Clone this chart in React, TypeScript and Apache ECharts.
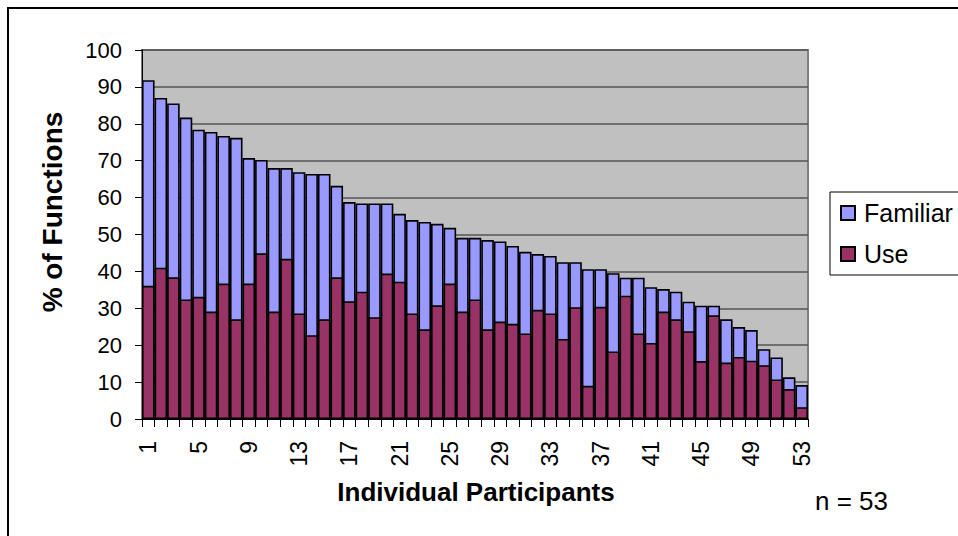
import React, { useEffect, useRef } from "react";
import * as echarts from "echarts";

const participants = [
  "1", "2", "3", "4", "5", "6", "7", "8", "9", "10",
  "11", "12", "13", "14", "15", "16", "17", "18", "19", "20",
  "21", "22", "23", "24", "25", "26", "27", "28", "29", "30",
  "31", "32", "33", "34", "35", "36", "37", "38", "39", "40",
  "41", "42", "43", "44", "45", "46", "47", "48", "49", "50",
  "51", "52", "53",
];

const familiar = [
  91.8, 87.0, 85.5, 81.7, 78.4, 77.8, 76.7, 76.2, 70.7, 70.2,
  68.0, 68.0, 66.9, 66.4, 66.4, 63.2, 58.8, 58.4, 58.4, 58.4,
  55.6, 53.9, 53.4, 52.9, 51.8, 49.1, 49.1, 48.5, 48.1, 46.9,
  45.3, 44.7, 44.2, 42.5, 42.5, 40.6, 40.6, 39.5, 38.3, 38.3,
  35.7, 35.2, 34.5, 31.8, 30.7, 30.7, 27.0, 24.9, 24.1, 18.9,
  16.7, 11.3, 9.2,
];

const use = [
  36.1, 41.0, 38.4, 32.4, 33.1, 29.1, 36.7, 27.0, 36.7, 44.9,
  29.1, 43.4, 28.6, 22.7, 27.0, 38.4, 31.9, 34.5, 27.6, 39.4,
  37.2, 28.6, 24.3, 30.8, 36.7, 29.1, 32.4, 24.3, 26.4, 25.8,
  23.2, 29.6, 28.6, 21.7, 30.3, 9.0, 30.4, 18.3, 33.4, 23.2,
  20.6, 29.1, 27.0, 23.8, 15.7, 28.1, 15.3, 16.8, 15.8, 14.6,
  10.7, 8.1, 3.2,
];

const seriesNames = ["Familiar", "Use"];
const yTitle = "% of Functions";
const xTitle = "Individual Participants";
const note = "n = 53";

const FONT = "'Liberation Sans', Arial, sans-serif";

export default function App() {
  const ref = useRef<HTMLDivElement>(null);

  useEffect(() => {
    if (!ref.current) return;
    const chart = echarts.init(ref.current, undefined, { renderer: "svg" });
    chart.setOption({
      animation: false,
      backgroundColor: "#ffffff",
      textStyle: { fontFamily: FONT, color: "#000" },
      grid: {
        left: 142,
        right: 150,
        top: 50,
        bottom: 117,
        show: true,
        backgroundColor: "#C0C0C0",
        borderColor: "#808080",
        borderWidth: 2,
      },
      legend: {
        data: seriesNames,
        orient: "vertical",
        left: 830,
        top: 192,
        padding: [7, 20, 7, 10],
        itemGap: 13,
        itemWidth: 14,
        itemHeight: 14,
        icon: "rect",
        borderColor: "#000",
        borderWidth: 1,
        backgroundColor: "#fff",
        textStyle: {
          fontFamily: FONT,
          fontSize: 25,
          lineHeight: 28,
          color: "#000",
          padding: [0, 0, 0, 4],
        },
      },
      xAxis: {
        type: "category",
        data: participants,
        boundaryGap: true,
        axisLine: { show: true, lineStyle: { color: "#000", width: 1 } },
        axisTick: {
          show: true,
          interval: 0,
          length: 8,
          lineStyle: { color: "#000", width: 1 },
        },
        axisLabel: {
          interval: 3,
          rotate: 90,
          margin: 22,
          fontSize: 23,
          fontFamily: FONT,
          color: "#000",
        },
        splitLine: { show: false },
      },
      yAxis: {
        type: "value",
        min: 0,
        max: 100,
        interval: 10,
        axisLine: { show: true, lineStyle: { color: "#000", width: 1 } },
        axisTick: { show: true, length: 7, lineStyle: { color: "#000" } },
        axisLabel: {
          margin: 20,
          fontSize: 22,
          fontFamily: FONT,
          color: "#000",
        },
        splitLine: { show: true, lineStyle: { color: "#555", width: 1.5 } },
      },
      series: [
        {
          name: seriesNames[0],
          type: "bar",
          data: familiar,
          barCategoryGap: "0%",
          barGap: "-100%",
          itemStyle: { color: "#9999FF", borderColor: "#000", borderWidth: 1.6 },
        },
        {
          name: seriesNames[1],
          type: "bar",
          data: use,
          barCategoryGap: "0%",
          barGap: "-100%",
          itemStyle: { color: "#993366", borderColor: "#000", borderWidth: 1.6 },
        },
      ],
      graphic: [
        {
          type: "rect",
          shape: { x: 8, y: 8, width: 980, height: 560 },
          style: { fill: "none", stroke: "#000", lineWidth: 2 },
          z: 100,
        },
        {
          type: "text",
          x: 52,
          y: 212,
          rotation: Math.PI / 2,
          style: {
            text: yTitle,
            fontFamily: FONT,
            fontSize: 28,
            fontWeight: "bold",
            fill: "#000",
            align: "center",
            verticalAlign: "middle",
          },
        },
        {
          type: "text",
          x: 476,
          y: 492,
          style: {
            text: xTitle,
            fontFamily: FONT,
            fontSize: 26,
            fontWeight: "bold",
            fill: "#000",
            align: "center",
            verticalAlign: "middle",
          },
        },
        {
          type: "text",
          x: 815,
          y: 501,
          style: {
            text: note,
            fontFamily: FONT,
            fontSize: 26,
            fill: "#000",
            align: "left",
            verticalAlign: "middle",
          },
        },
      ],
    });
    return () => chart.dispose();
  }, []);

  return (
    <div
      ref={ref}
      style={{ position: "fixed", left: 0, top: 0, width: 958, height: 536 }}
    />
  );
}
